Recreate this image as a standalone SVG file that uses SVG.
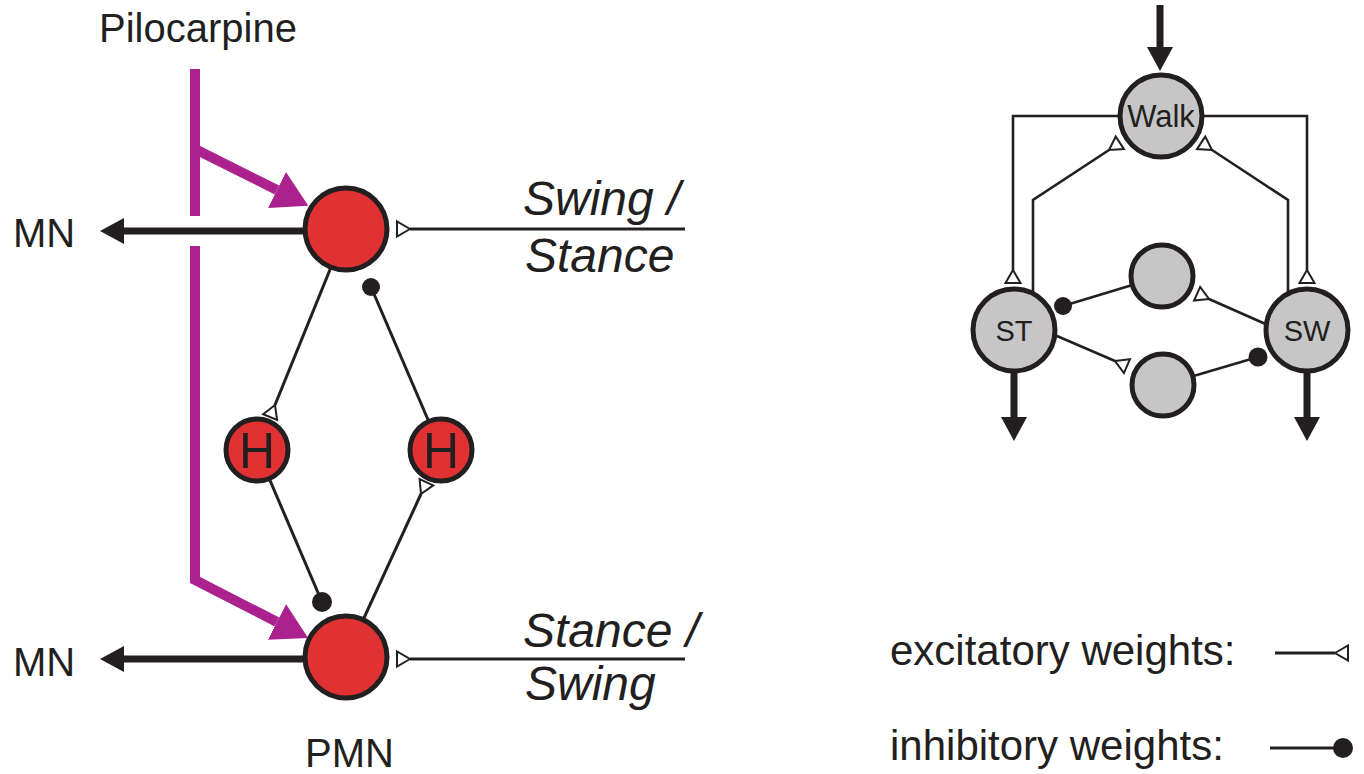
<svg xmlns="http://www.w3.org/2000/svg" width="1364" height="774" viewBox="0 0 1364 774">
<style>
text{font-family:"Liberation Sans",Arial,sans-serif;fill:#231f20}
.lbl{font-size:40px}
.it{font-size:48px;font-style:italic}
.leg{font-size:42px}
.pmn{fill:#e03233;stroke:#231f20;stroke-width:5}
.gn{fill:#c6c6c6;stroke:#231f20;stroke-width:5}
.w{fill:none;stroke:#231f20;stroke-width:3}
.wr{fill:none;stroke:#231f20;stroke-width:2.6}
.big{fill:none;stroke:#231f20;stroke-width:7}
.mag{fill:none;stroke:#ab218e;stroke-width:10;stroke-linejoin:miter}
.dot{fill:#231f20}
</style>
<defs>
<marker id="exc" markerUnits="userSpaceOnUse" markerWidth="20" markerHeight="20" refX="0" refY="0" viewBox="-2 -10 18 20" orient="auto">
<path d="M0,0 L13,-7.5 L13,7.5 Z" fill="#fff" stroke="#231f20" stroke-width="2"/>
</marker>
<marker id="arr" markerUnits="userSpaceOnUse" markerWidth="26" markerHeight="28" refX="0" refY="0" viewBox="0 -14 26 28" orient="auto">
<path d="M0,-13 L24,0 L0,13 Z" fill="#231f20"/>
</marker>
<marker id="marr" markerUnits="userSpaceOnUse" markerWidth="40" markerHeight="44" refX="0" refY="0" viewBox="0 -22 40 44" orient="auto">
<path d="M0,-20 L35,0 L0,20 Z" fill="#ab218e"/>
</marker>
</defs>

<g id="connectors">
<line class="mag" x1="195" y1="69" x2="195" y2="216"/>
<line class="mag" x1="197" y1="150" x2="277" y2="190" marker-end="url(#marr)"/>
<polyline class="mag" points="195,246 195,580 277,622" marker-end="url(#marr)"/>
<line class="big" x1="305" y1="231" x2="124" y2="231" marker-end="url(#arr)"/>
<line class="big" x1="305" y1="659" x2="124" y2="659" marker-end="url(#arr)"/>
<line class="w" x1="685" y1="229" x2="410" y2="229" marker-end="url(#exc)"/>
<line class="w" x1="685" y1="659" x2="410" y2="659" marker-end="url(#exc)"/>
<line class="w" x1="340" y1="245" x2="275" y2="405" marker-end="url(#exc)"/>
<line class="w" x1="441" y1="450" x2="371" y2="287"/>
<circle class="dot" cx="371" cy="287" r="9"/>
<line class="w" x1="257" y1="450" x2="322" y2="602"/>
<circle class="dot" cx="322" cy="602" r="10"/>
<line class="w" x1="346" y1="657" x2="421" y2="494" marker-end="url(#exc)"/>
<line class="big" x1="1160" y1="5" x2="1160" y2="47" marker-end="url(#arr)"/>
<polyline class="wr" points="1120,116 1013,116 1013,270" marker-end="url(#exc)"/>
<polyline class="wr" points="1202,116 1307,116 1307,270" marker-end="url(#exc)"/>
<polyline class="wr" points="1033,292 1033,200 1109,150" marker-end="url(#exc)"/>
<polyline class="wr" points="1288,292 1288,200 1212,150" marker-end="url(#exc)"/>
<line class="wr" x1="1162" y1="276" x2="1063" y2="306"/>
<circle class="dot" cx="1063" cy="306" r="9"/>
<line class="wr" x1="1270" y1="326" x2="1209" y2="299" marker-end="url(#exc)"/>
<line class="wr" x1="1050" y1="333" x2="1115" y2="361" marker-end="url(#exc)"/>
<line class="wr" x1="1163" y1="385" x2="1258" y2="357"/>
<circle class="dot" cx="1258" cy="357" r="9.5"/>
<line class="big" x1="1014" y1="370" x2="1014" y2="417" marker-end="url(#arr)"/>
<line class="big" x1="1307" y1="370" x2="1307" y2="417" marker-end="url(#arr)"/>
</g>

<g id="pmn-top"><circle class="pmn" cx="346" cy="229" r="41"/></g>
<g id="pmn-bottom"><circle class="pmn" cx="346" cy="657" r="41"/></g>
<g id="h-left"><circle class="pmn" cx="257" cy="450" r="31"/><text x="257" y="468" font-size="50" text-anchor="middle">H</text></g>
<g id="h-right"><circle class="pmn" cx="441" cy="450" r="31"/><text x="441" y="468" font-size="50" text-anchor="middle">H</text></g>

<g id="walk"><circle class="gn" cx="1161" cy="116" r="41"/><text x="1161" y="127" font-size="31" text-anchor="middle">Walk</text></g>
<g id="st"><circle class="gn" cx="1014" cy="330" r="41"/><text x="1014" y="341" font-size="29" text-anchor="middle">ST</text></g>
<g id="sw"><circle class="gn" cx="1307" cy="330" r="41"/><text x="1307" y="341" font-size="29" text-anchor="middle">SW</text></g>
<g id="mid-upper"><circle class="gn" cx="1162" cy="276" r="31"/></g>
<g id="mid-lower"><circle class="gn" cx="1163" cy="385" r="31"/></g>

<g id="labels">
<text class="lbl" x="99" y="42">Pilocarpine</text>
<text class="lbl" x="13" y="247">MN</text>
<text class="lbl" x="13" y="676">MN</text>
<text class="lbl" x="305" y="767">PMN</text>
<text class="it" x="523" y="215">Swing /</text>
<text class="it" x="525" y="272">Stance</text>
<text class="it" x="523" y="647">Stance /</text>
<text class="it" x="525" y="700">Swing</text>
</g>

<g id="legend">
<text class="leg" x="890" y="665">excitatory weights:</text>
<line class="w" x1="1275" y1="653" x2="1335" y2="653" marker-end="url(#exc)"/>
<text class="leg" x="890" y="760">inhibitory weights:</text>
<line class="w" x1="1270" y1="748" x2="1343" y2="748"/>
<circle class="dot" cx="1343" cy="748" r="10"/>
</g>
</svg>
